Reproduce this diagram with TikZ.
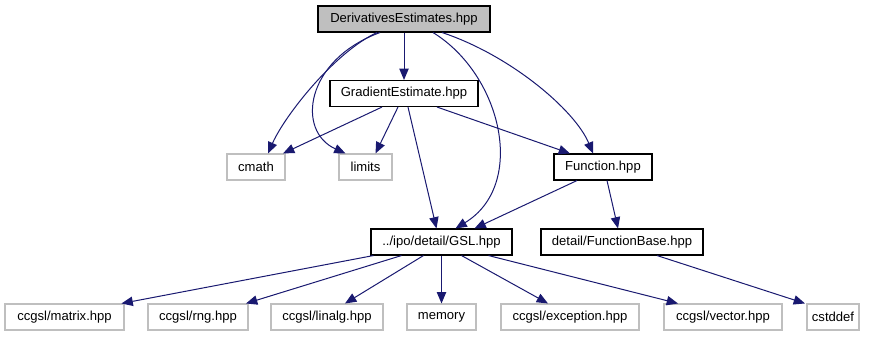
\documentclass[tikz,border=0pt]{standalone}
\usepackage{fontspec}
\setmainfont{Liberation Sans}
\usetikzlibrary{arrows.meta,calc}
\definecolor{edgeblue}{HTML}{191970}
\definecolor{greybox}{HTML}{BFBFBF}
\definecolor{rootfill}{HTML}{BFBFBF}
\tikzset{
  box/.style={draw=black, line width=0.8pt, inner sep=0pt, minimum height=19.5pt, font=\fontsize{9.8}{12}\selectfont},
  extbox/.style={draw=greybox, line width=0.8pt, inner sep=0pt, minimum height=19.5pt, font=\fontsize{9.8}{12}\selectfont},
  edge/.style={draw=edgeblue, line width=0.75pt, -{Triangle[length=8.5pt,width=7pt]}},
}
\begin{document}
\begin{tikzpicture}[x=0.75pt,y=-0.75pt]
\useasboundingbox (0,0) rectangle (877,336);
% nodes
\node[box, fill=rootfill, minimum width=129pt] (de) at (404,19) {DerivativesEstimates.hpp};
\node[box, minimum width=111pt] (ge) at (404,93.5) {GradientEstimate.hpp};
\node[extbox, minimum width=43.5pt] (cmath) at (256,167) {cmath};
\node[extbox, minimum width=39.75pt] (limits) at (365.5,167) {limits};
\node[box, minimum width=73.5pt] (func) at (603,167) {Function.hpp};
\node[box, minimum width=105.75pt] (gsl) at (441.5,242) {../ipo/detail/GSL.hpp};
\node[box, minimum width=121.5pt] (fb) at (622,242) {detail/FunctionBase.hpp};
\node[extbox, minimum width=89.25pt] (matrix) at (64.5,317) {ccgsl/matrix.hpp};
\node[extbox, minimum width=75pt] (rng) at (198,317) {ccgsl/rng.hpp};
\node[extbox, minimum width=84pt] (linalg) at (327,317) {ccgsl/linalg.hpp};
\node[extbox, minimum width=51.75pt] (memory) at (441.5,317) {memory};
\node[extbox, minimum width=103.5pt] (exception) at (570,317) {ccgsl/exception.hpp};
\node[extbox, minimum width=88.5pt] (vector) at (723,317) {ccgsl/vector.hpp};
\node[extbox, minimum width=39pt] (cstddef) at (833,317) {cstddef};
% edges from DerivativesEstimates
\draw[edge] (de.south) -- (ge.north);
\draw[edge] ($(de.south)+(-27,0)$) .. controls (335,52) and (285,115) .. ($(cmath.north)+(12,0)$);
\draw[edge] ($(de.south)+(-24,0)$) .. controls (305,60) and (296,131) .. ($(limits.north)+(-20,0)$);
\draw[edge] ($(de.south)+(29,0)$) .. controls (502,75) and (527,185) .. ($(gsl.north)+(14,0)$);
\draw[edge] ($(de.south)+(38,0)$) .. controls (510,55) and (575,110) .. ($(func.north)+(-10,0)$);
% edges from GradientEstimate
\draw[edge] ($(ge.south)+(-22,0)$) -- ($(cmath.north)+(27,0)$);
\draw[edge] ($(ge.south)+(-6,0)$) -- ($(limits.north)+(10,0)$);
\draw[edge] ($(ge.south)+(4,0)$) -- ($(gsl.north)+(-5,0)$);
\draw[edge] ($(ge.south)+(33,0)$) -- ($(func.north)+(-33,0)$);
% edges from Function
\draw[edge] ($(func.south)+(-26,0)$) -- ($(gsl.north)+(33,0)$);
\draw[edge] ($(func.south)+(4,0)$) -- ($(fb.north)+(-4,0)$);
% edges from GSL
\draw[edge] ($(gsl.south)+(-68,0)$) -- ($(matrix.north)+(57,0)$);
\draw[edge] ($(gsl.south)+(-40,0)$) -- ($(rng.north)+(48,0)$);
\draw[edge] ($(gsl.south)+(-18,0)$) -- ($(linalg.north)+(18,0)$);
\draw[edge] (gsl.south) -- (memory.north);
\draw[edge] ($(gsl.south)+(20,0)$) -- ($(exception.north)+(-22,0)$);
\draw[edge] ($(gsl.south)+(47,0)$) -- ($(vector.north)+(-45,0)$);
% edge from FunctionBase
\draw[edge] ($(fb.south)+(35,0)$) -- ($(cstddef.north)+(-28,0)$);
\end{tikzpicture}
\end{document}
